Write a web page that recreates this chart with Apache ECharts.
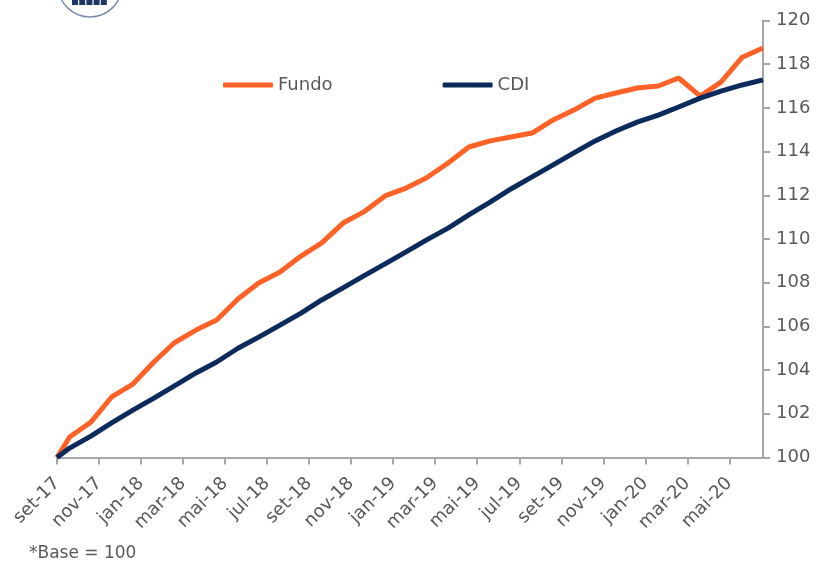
<!DOCTYPE html>
<html>
<head>
<meta charset="utf-8">
<script src="https://cdn.jsdelivr.net/npm/echarts@6/dist/echarts.min.js"></script>
<style>
  html, body { margin: 0; padding: 0; background: #fff; }
  #chart { width: 821px; height: 564px; }
</style>
</head>
<body>
<div id="chart"></div>
<script>
// eixo começa na data inicial do fundo, pontos no fim de cada mês
var axisStart = '2017-09-12'
var dates = [
  '2017-09-12', '2017-09-30', '2017-10-31', '2017-11-30', '2017-12-31',
  '2018-01-31', '2018-02-28', '2018-03-31', '2018-04-30', '2018-05-31',
  '2018-06-30', '2018-07-31', '2018-08-31', '2018-09-30', '2018-10-31',
  '2018-11-30', '2018-12-31', '2019-01-31', '2019-02-28', '2019-03-31',
  '2019-04-30', '2019-05-31', '2019-06-30', '2019-07-31', '2019-08-31',
  '2019-09-30', '2019-10-31', '2019-11-30', '2019-12-31', '2020-01-31',
  '2020-02-29', '2020-03-31', '2020-04-30', '2020-05-31', '2020-06-30'
]
var fundo = [
  100, 100.94, 101.62, 102.77, 103.36, 104.37, 105.24, 105.83, 106.29, 107.25,
  107.99, 108.49, 109.22, 109.82, 110.73, 111.24, 111.97, 112.33, 112.79, 113.48,
  114.21, 114.49, 114.67, 114.85, 115.45, 115.9, 116.45, 116.68, 116.91, 117.0,
  117.37, 116.54, 117.18, 118.32, 118.74
]
var cdi = [
  100, 100.43, 100.98, 101.58, 102.17, 102.72, 103.27, 103.87, 104.37, 105.0,
  105.51, 106.06, 106.61, 107.21, 107.76, 108.31, 108.86, 109.41, 109.95, 110.5,
  111.1, 111.69, 112.29, 112.84, 113.39, 113.94, 114.49, 114.94, 115.35, 115.67,
  116.04, 116.45, 116.77, 117.05, 117.28
]
var tickLabels = [
  'set-17', 'nov-17', 'jan-18', 'mar-18', 'mai-18', 'jul-18', 'set-18', 'nov-18',
  'jan-19', 'mar-19', 'mai-19', 'jul-19', 'set-19', 'nov-19', 'jan-20', 'mar-20', 'mai-20'
]

// meses (fracionários) desde o início do eixo
function monthPos(s) {
  var p = s.split('-').map(Number)
  var b = axisStart.split('-').map(Number)
  var dim = new Date(p[0], p[1], 0).getDate()
  return (p[0] - b[0]) * 12 + (p[1] - b[1]) + (p[2] - b[2]) / dim
}

var xs = dates.map(monthPos)
var font = 'DejaVu Sans'
var gray = '#595959'
var axisGray = '#a6a6a6'

var chart = echarts.init(document.getElementById('chart'))
chart.setOption({
  animation: false,
  textStyle: { fontFamily: font },
  grid: { left: 57, right: 58, top: 20.5, bottom: 106.5 },
  legend: {
    left: 223,
    top: 76,
    padding: 0,
    itemWidth: 50,
    itemHeight: 5,
    itemGap: 110,
    icon: 'roundRect',
    textStyle: { color: gray, fontSize: 18, fontFamily: font },
    data: ['Fundo', 'CDI']
  },
  xAxis: {
    type: 'value',
    min: 0,
    max: xs[xs.length - 1],
    interval: 2,
    splitLine: { show: false },
    axisLine: { show: true, onZero: false, lineStyle: { color: axisGray, width: 2 } },
    axisTick: { show: true, length: 7, lineStyle: { color: axisGray, width: 2 } },
    axisLabel: {
      rotate: 45,
      color: gray,
      fontSize: 18,
      fontFamily: font,
      margin: 23,
      showMaxLabel: false,
      formatter: function (v) {
        var i = Math.round(v / 2)
        return Math.abs(v - i * 2) < 1e-6 && tickLabels[i] ? tickLabels[i] : ''
      }
    }
  },
  yAxis: {
    type: 'value',
    position: 'right',
    min: 100,
    max: 120,
    interval: 2,
    splitLine: { show: false },
    axisLine: { show: true, onZero: false, lineStyle: { color: axisGray, width: 2 } },
    axisTick: { show: true, length: 7, lineStyle: { color: axisGray, width: 2 } },
    axisLabel: { color: gray, fontSize: 18, fontFamily: font, margin: 13 }
  },
  series: [
    {
      name: 'Fundo',
      type: 'line',
      symbol: 'none',
      itemStyle: { color: '#ff6226' },
      lineStyle: { color: '#ff6226', width: 5 },
      data: xs.map(function (x, i) { return [x, fundo[i]] })
    },
    {
      name: 'CDI',
      type: 'line',
      symbol: 'none',
      itemStyle: { color: '#0c2a5c' },
      lineStyle: { color: '#0c2a5c', width: 5 },
      data: xs.map(function (x, i) { return [x, cdi[i]] })
    }
  ],
  graphic: [
    {
      type: 'circle',
      shape: { cx: 90, cy: -15, r: 32 },
      style: { fill: '#fff', stroke: '#7b8cab', lineWidth: 1.5 }
    },
    {
      type: 'group',
      children: [0, 1, 2, 3, 4].map(function (i) {
        return {
          type: 'rect',
          shape: { x: 72 + i * 7.2, y: 0, width: 6, height: 5 },
          style: { fill: '#1c3766' }
        }
      })
    },
    {
      type: 'text',
      left: 29,
      top: 545,
      style: { text: '*Base = 100', fill: gray, font: '17px "DejaVu Sans"' }
    }
  ]
})
</script>
</body>
</html>
